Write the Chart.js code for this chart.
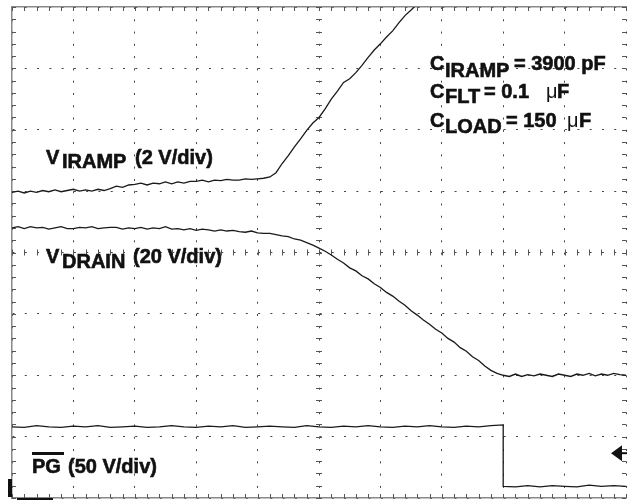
<!DOCTYPE html>
<html>
<head>
<meta charset="utf-8">
<script src="https://cdn.jsdelivr.net/npm/chart.js@4"></script>
<style>
  body { margin: 0; background: #fff; }
  canvas { display: block; }
</style>
</head>
<body>
<canvas id="scope" width="627" height="500"></canvas>
<script>
// time axis in divisions (10 div across the screen)
const time = [
  0.0, 0.1, 0.2, 0.3, 0.4, 0.5, 0.6, 0.7, 0.8, 0.9,
  1.0, 1.1, 1.2, 1.3, 1.4, 1.5, 1.6, 1.7, 1.8, 1.9,
  2.0, 2.1, 2.2, 2.3, 2.4, 2.5, 2.6, 2.7, 2.8, 2.9,
  3.0, 3.1, 3.2, 3.3, 3.4, 3.5, 3.6, 3.7, 3.8, 3.9,
  4.0, 4.1, 4.2, 4.3, 4.4, 4.5, 4.6, 4.7, 4.8, 4.9,
  5.0, 5.1, 5.2, 5.3, 5.4, 5.5, 5.6, 5.7, 5.8, 5.9,
  6.0, 6.1, 6.2, 6.3, 6.4, 6.5, 6.6, 6.7, 6.8, 6.9,
  7.0, 7.1, 7.2, 7.3, 7.4, 7.5, 7.6, 7.7, 7.8, 7.9,
  8.0, 8.1, 8.2, 8.3, 8.4, 8.5, 8.6, 8.7, 8.8, 8.9,
  9.0, 9.1, 9.2, 9.3, 9.4, 9.5, 9.6, 9.7, 9.8, 9.9,
  10.0
];

// screen position of each trace, in divisions from the bottom (8 div high)
const viramp = [
  4.98, 5.00, 4.97, 5.00, 4.98, 5.01, 4.99, 5.02, 4.99, 5.01,
  5.03, 5.00, 5.02, 5.00, 5.03, 5.01, 5.04, 5.08, 5.06, 5.10,
  5.11, 5.13, 5.10, 5.13, 5.12, 5.15, 5.12, 5.15, 5.13, 5.16,
  5.16, 5.18, 5.15, 5.18, 5.17, 5.19, 5.18, 5.18, 5.20, 5.19,
  5.20, 5.21, 5.23, 5.30, 5.45, 5.58, 5.72, 5.85, 5.99, 6.11,
  6.20, 6.34, 6.50, 6.63, 6.77, 6.83, 6.93, 7.05, 7.18, 7.30,
  7.40, 7.51, 7.61, 7.74, 7.86, 7.95, 8.05
];

const vdrain = [
  4.40, 4.42, 4.39, 4.42, 4.40, 4.41, 4.38, 4.40, 4.42, 4.39,
  4.39, 4.41, 4.40, 4.42, 4.39, 4.40, 4.41, 4.41, 4.38, 4.40,
  4.39, 4.41, 4.38, 4.40, 4.39, 4.42, 4.38, 4.39, 4.37, 4.39,
  4.36, 4.38, 4.37, 4.35, 4.37, 4.35, 4.36, 4.34, 4.33, 4.35,
  4.32, 4.31, 4.31, 4.29, 4.27, 4.26, 4.22, 4.20, 4.16, 4.12,
  4.07, 4.02, 3.96, 3.89, 3.83, 3.75, 3.70, 3.62, 3.57, 3.49,
  3.43, 3.35, 3.29, 3.21, 3.14, 3.05, 2.98, 2.90, 2.83, 2.75,
  2.69, 2.60, 2.54, 2.45, 2.39, 2.30, 2.24, 2.15, 2.08, 2.03,
  2.00, 1.98, 2.02, 1.98, 2.01, 1.99, 2.02, 2.00, 1.98, 2.02,
  2.00, 1.98, 2.02, 2.00, 2.03, 1.99, 2.02, 2.00, 2.03, 2.01,
  2.00
];

// PG sampled every 0.2 div; the falling edge at 8.0 div is listed twice
const pgTime = [
  0.0, 0.2, 0.4, 0.6, 0.8, 1.0, 1.2, 1.4, 1.6, 1.8,
  2.0, 2.2, 2.4, 2.6, 2.8, 3.0, 3.2, 3.4, 3.6, 3.8,
  4.0, 4.2, 4.4, 4.6, 4.8, 5.0, 5.2, 5.4, 5.6, 5.8,
  6.0, 6.2, 6.4, 6.6, 6.8, 7.0, 7.2, 7.4, 7.6, 7.8,
  8.0, 8.0, 8.2, 8.4, 8.6, 8.8, 9.0, 9.2, 9.4, 9.6,
  9.8, 10.0
];

const pg = [
  1.16, 1.15, 1.18, 1.16, 1.15, 1.17, 1.16, 1.18, 1.15, 1.16,
  1.17, 1.15, 1.16, 1.18, 1.16, 1.15, 1.17, 1.16, 1.18, 1.15,
  1.16, 1.17, 1.16, 1.15, 1.18, 1.16, 1.15, 1.17, 1.16, 1.18,
  1.16, 1.15, 1.17, 1.16, 1.18, 1.16, 1.15, 1.17, 1.16, 1.18,
  1.19, 0.19, 0.18, 0.20, 0.18, 0.20, 0.19, 0.18, 0.21, 0.19,
  0.20, 0.19
];

// reference level marker for the PG channel (right edge arrow)
const pgMarkerLevel = 0.73;

const bold = 'bold 20px "Liberation Sans", Arial, sans-serif';
const thin = '20px "Liberation Sans", Arial, sans-serif';

// label pieces: text, x, baseline y, font
const labels = [
  ['V', 46, 164, bold], ['IRAMP', 62, 168, bold], ['(2 V/div)', 135, 164, bold],
  ['V', 46, 263, bold], ['DRAIN', 62, 268, bold], ['(20 V/div)', 133, 263, bold],
  ['PG', 32, 473, bold], ['(50 V/div)', 68, 473, bold],
  ['C', 430, 70, bold], ['IRAMP', 445, 77, bold], ['= 3900 pF', 514, 70, bold],
  ['C', 430, 98, bold], ['FLT', 445, 103, bold], ['= 0.1', 484, 98, bold],
  ['\u03bc', 546, 98, thin], ['F', 557, 98, bold],
  ['C', 430, 127, bold], ['LOAD', 445, 133, bold], ['= 150', 506, 127, bold],
  ['\u03bc', 567, 127, thin], ['F', 579, 127, bold]
];

function pairs(xs, ys) {
  return ys.map((v, i) => ({ x: xs[i], y: v }));
}

const scopeDecor = {
  id: 'scopeDecor',
  beforeDatasetsDraw(chart) {
    const { ctx, chartArea: a, scales: { x, y } } = chart;
    ctx.save();
    ctx.strokeStyle = '#555';
    ctx.lineWidth = 1;
    ctx.beginPath();
    // minor ticks every 0.2 div on edges and centre lines
    for (let t = 0; t <= 50; t++) {
      const px = Math.round(x.getPixelForValue(t * 0.2)) + 0.5;
      ctx.moveTo(px, a.top); ctx.lineTo(px, a.top + 4);
      ctx.moveTo(px, a.bottom); ctx.lineTo(px, a.bottom - 4);
      const cy = y.getPixelForValue(4);
      ctx.moveTo(px, cy - 3); ctx.lineTo(px, cy + 3);
    }
    for (let t = 0; t <= 40; t++) {
      const py = Math.round(y.getPixelForValue(t * 0.2)) + 0.5;
      ctx.moveTo(a.left, py); ctx.lineTo(a.left + 4, py);
      ctx.moveTo(a.right, py); ctx.lineTo(a.right - 4, py);
      const cx = x.getPixelForValue(5);
      ctx.moveTo(cx - 3, py); ctx.lineTo(cx + 3, py);
    }
    ctx.stroke();
    ctx.restore();
  },
  afterDraw(chart) {
    const { ctx, chartArea: a, scales: { y } } = chart;
    ctx.save();
    ctx.fillStyle = '#111';
    ctx.strokeStyle = '#111';
    ctx.lineWidth = 0.6;
    ctx.textBaseline = 'alphabetic';
    labels.forEach(([t, lx, ly, f]) => {
      ctx.font = f;
      ctx.fillText(t, lx, ly);
      if (f === bold) ctx.strokeText(t, lx, ly);
    });
    // PG overline
    ctx.fillRect(32, 452, 32, 3);

    // trigger / channel markers
    ctx.fillRect(a.left - 4, a.bottom - 19, 4, 18);
    ctx.fillRect(a.left + 5, a.bottom, 36, 2);

    // PG reference arrow on the right edge
    const my = y.getPixelForValue(pgMarkerLevel);
    ctx.beginPath();
    ctx.moveTo(a.right - 15, my);
    ctx.lineTo(a.right - 4, my - 8);
    ctx.lineTo(a.right - 4, my + 8);
    ctx.closePath();
    ctx.fill();
    ctx.fillRect(a.right - 5, my - 1, 6, 2);
    ctx.restore();
  }
};

const trace = {
  borderColor: '#1a1a1a',
  borderWidth: 1.3,
  pointRadius: 0,
  tension: 0,
  fill: false
};

new Chart(document.getElementById('scope'), {
  type: 'line',
  data: {
    datasets: [
      Object.assign({ label: 'VIRAMP', data: pairs(time, viramp) }, trace),
      Object.assign({ label: 'VDRAIN', data: pairs(time, vdrain) }, trace),
      Object.assign({ label: 'PG', data: pairs(pgTime, pg) }, trace)
    ]
  },
  options: {
    responsive: false,
    animation: false,
    events: [],
    layout: { padding: { left: 12, top: 7, right: 1, bottom: 2 } },
    plugins: { legend: { display: false }, tooltip: { enabled: false } },
    scales: {
      x: {
        type: 'linear', min: 0, max: 10,
        ticks: { display: false, stepSize: 1 },
        grid: { drawTicks: false, color: '#444', lineWidth: 1 },
        border: { display: true, color: '#888', width: 1.5, dash: [2, 10.28] }
      },
      xTop: {
        type: 'linear', position: 'top', min: 0, max: 10,
        ticks: { display: false },
        grid: { display: false, drawTicks: false },
        border: { display: true, color: '#888', width: 1.5 }
      },
      y: {
        min: 0, max: 8,
        ticks: { display: false, stepSize: 1 },
        grid: { drawTicks: false, color: '#444', lineWidth: 1 },
        border: { display: true, color: '#888', width: 1.5, dash: [2, 10.28] }
      }
    }
  },
  plugins: [scopeDecor]
});
</script>
</body>
</html>
